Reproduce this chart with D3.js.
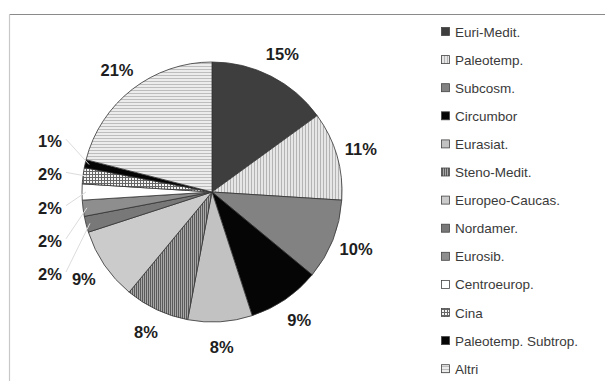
<!DOCTYPE html>
<html><head><meta charset="utf-8">
<script src="https://cdn.jsdelivr.net/npm/d3@7"></script>
<style>body{margin:0;background:#fff}svg{display:block}</style>
</head><body>
<script>
const categories = ["Euri-Medit.","Paleotemp.","Subcosm.","Circumbor","Eurasiat.","Steno-Medit.","Europeo-Caucas.","Nordamer.","Eurosib.","Centroeurop.","Cina","Paleotemp. Subtrop.","Altri"];
const values = [15,11,10,9,8,8,9,2,2,2,2,1,21];
const valueLabels = ["15%","11%","10%","9%","8%","8%","9%","2%","2%","2%","2%","1%","21%"];
const fills = ["#3e3e3e","url(#pVert)","#828282","#050505","#c2c2c2","url(#pDense)","#cbcbcb","#787878","#8e8e8e","#ffffff","url(#pGrid)","#050505","url(#pHoriz)"];

const W=605,H=381, cx=212, cy=192, R=130;
const svg=d3.select("body").append("svg").attr("width",W).attr("height",H);
const defs=svg.append("defs");
function pat(id,w,h,bg,draw){
  const p=defs.append("pattern").attr("id",id).attr("patternUnits","userSpaceOnUse").attr("width",w).attr("height",h);
  p.append("rect").attr("width",w).attr("height",h).attr("fill",bg);
  draw(p);
}
pat("pVert",3,3,"#e6e6e6",p=>p.append("rect").attr("x",0).attr("y",0).attr("width",1).attr("height",3).attr("fill","#b4b4b4"));
pat("pDense",2,2,"#a8a8a8",p=>p.append("rect").attr("x",0).attr("y",0).attr("width",1).attr("height",2).attr("fill","#5a5a5a"));
pat("pGrid",3,3,"#f4f4f4",p=>{p.append("rect").attr("width",1).attr("height",3).attr("fill","#666");p.append("rect").attr("width",3).attr("height",1).attr("fill","#666");});
pat("pHoriz",3,3,"#ececec",p=>p.append("rect").attr("x",0).attr("y",0).attr("width",3).attr("height",1).attr("fill","#bdbdbd"));

// frame
svg.append("line").attr("x1",9.5).attr("x2",W).attr("y1",14.5).attr("y2",14.5).attr("stroke","#8a8a8a").attr("stroke-width",1.2);
svg.append("line").attr("x1",9.5).attr("x2",9.5).attr("y1",14.5).attr("y2",H).attr("stroke","#c8c8c8").attr("stroke-width",1.2);

const data=categories.map((c,i)=>({cat:c,value:values[i],label:valueLabels[i],fill:fills[i]}));
const pie=d3.pie().sort(null).value(d=>d.value).startAngle(0).endAngle(2*Math.PI);
const arcs=pie(data);
const arc=d3.arc().innerRadius(0).outerRadius(R);
const labelArc=d3.arc().innerRadius(155).outerRadius(155);
const edgeArc=d3.arc().innerRadius(R-4).outerRadius(R-4);

const g=svg.append("g").attr("transform",`translate(${cx},${cy})`);
g.selectAll("path.slice").data(arcs).join("path").attr("class","slice")
  .attr("d",arc).attr("fill",d=>d.data.fill).attr("stroke","#333").attr("stroke-width",0.8);

const small=arcs.filter(d=>d.data.value<=2);
const big=arcs.filter(d=>d.data.value>2);
const labelFont="Liberation Sans, Arial, sans-serif";
g.selectAll("text.big").data(big).join("text").attr("class","big")
  .attr("transform",d=>`translate(${labelArc.centroid(d)})`)
  .attr("text-anchor","middle").attr("dominant-baseline","central")
  .attr("font-family",labelFont).attr("font-weight","bold").attr("font-size",16.5)
  .attr("fill","#1e1e1e").text(d=>d.data.label);

const smallLabelX=-162, smallBaseY=82, smallStep=33.2;
small.forEach((d,i)=>{
  const ly=smallBaseY-i*smallStep;
  const e=edgeArc.centroid(d);
  g.append("line").attr("x1",smallLabelX+16).attr("y1",ly-2).attr("x2",e[0]).attr("y2",e[1])
    .attr("stroke","#dcdcdc").attr("stroke-width",1);
  g.append("text").attr("x",smallLabelX).attr("y",ly)
    .attr("text-anchor","middle").attr("dominant-baseline","central")
    .attr("font-family",labelFont).attr("font-weight","bold").attr("font-size",16.5)
    .attr("fill","#1e1e1e").text(d.data.label);
});

// legend
const lg=svg.append("g");
const ly0=32, lstep=28.1;
data.forEach((d,i)=>{
  const y=ly0+i*lstep;
  lg.append("rect").attr("x",441.5).attr("y",y-4.5).attr("width",8).attr("height",8)
    .attr("fill",d.fill).attr("stroke","#444").attr("stroke-width",0.8);
  lg.append("text").attr("x",455).attr("y",y).attr("dominant-baseline","central")
    .attr("font-family",labelFont).attr("font-size",13.5).attr("fill","#3a3a3a").text(d.cat);
});
</script>
</body></html>
